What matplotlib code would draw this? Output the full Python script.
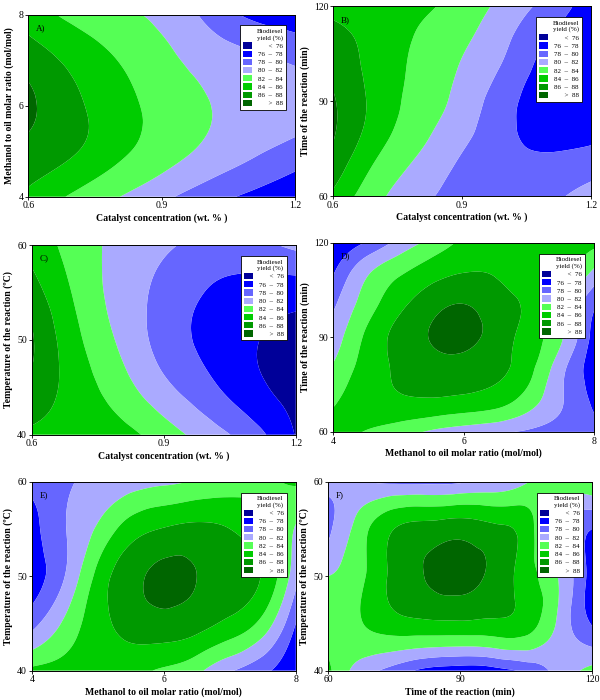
import numpy as np
import matplotlib
matplotlib.use('Agg')
import matplotlib.pyplot as plt
import matplotlib.tri as mtri
from matplotlib.patches import Patch

plt.rcParams['font.family'] = ['Liberation Serif', 'DejaVu Serif']

# contour bands (biodiesel yield, %)
levels = [70, 76, 78, 80, 82, 84, 86, 88, 95]
band_colors = ['#000099', '#0000ff', '#6666ff', '#aaaaff',
               '#55ff55', '#00cc00', '#009900', '#006600']
band_labels = ['      <  76', '76  \u2013  78', '78  \u2013  80', '80  \u2013  82',
               '82  \u2013  84', '84  \u2013  86', '86  \u2013  88', '      >  88']

# factor levels
catalyst = [0.6, 0.7, 0.8, 0.9, 1.0, 1.1, 1.2]
methanol_a = [4, 5, 6, 7, 8]
time_b = [60, 70, 80, 90, 100, 110, 120]
temp_c = [40, 45, 50, 55, 60]
methanol = [4, 4.5, 5, 5.5, 6, 6.5, 7, 7.5, 8]
time_f = [60, 67.5, 75, 82.5, 90, 97.5, 105, 112.5, 120]

# yield, rows = y values, cols = x values
yield_a = [[85.6, 83.7, 82.1, 80.5, 78.9, 77.6, 76.5],
           [87.4, 86.2, 84.5, 83.0, 81.6, 80.4, 79.2],
           [88.4, 86.5, 84.8, 83.3, 82.1, 81.4, 81.0],
           [87.2, 85.5, 84.0, 82.6, 81.3, 80.5, 79.7],
           [85.0, 83.5, 82.5, 81.5, 79.6, 77.6, 76.8]]

yield_b = [[85.6, 82.6, 80.5, 79.4, 79.0, 79.5, 80.9],
           [87.3, 83.8, 81.6, 79.7, 78.6, 78.5, 79.0],
           [88.2, 85.0, 82.6, 80.6, 78.5, 77.3, 77.4],
           [88.2, 85.4, 83.2, 81.3, 78.7, 77.0, 76.3],
           [87.5, 85.3, 83.5, 81.8, 79.6, 77.2, 76.3],
           [86.6, 85.3, 83.8, 82.4, 80.4, 78.0, 76.6],
           [85.5, 85.1, 84.4, 83.2, 81.3, 79.3, 77.0]]

yield_c = [[85.6, 85.3, 84.8, 83.0, 81.0, 78.9, 75.9],
           [87.5, 85.1, 82.9, 80.5, 78.5, 76.6, 75.2],
           [88.2, 84.5, 81.7, 79.2, 77.5, 76.2, 75.3],
           [86.9, 83.7, 81.2, 79.4, 77.9, 77.2, 76.9],
           [85.3, 83.1, 81.4, 80.3, 79.4, 79.4, 80.5]]

yield_d = [[84.8, 83.9, 82.9, 81.7, 80.9, 80.3, 79.7, 79.0, 78.6],
           [83.7, 85.1, 85.7, 85.8, 85.5, 84.9, 83.0, 80.2, 77.6],
           [82.3, 84.8, 86.3, 87.2, 87.3, 86.5, 84.6, 80.6, 77.0],
           [80.8, 84.3, 86.6, 88.1, 88.5, 87.2, 85.1, 82.2, 77.2],
           [79.7, 83.0, 85.5, 87.3, 88.1, 87.0, 85.5, 82.3, 78.3],
           [77.9, 81.7, 83.8, 85.3, 86.1, 85.9, 85.3, 84.4, 81.3],
           [76.4, 78.1, 80.6, 82.6, 84.4, 85.2, 85.4, 85.1, 84.6]]

yield_e = [[84.5, 84.8, 84.9, 84.6, 83.7, 82.5, 80.2, 78.5, 76.5],
           [79.3, 82.4, 85.2, 86.8, 87.3, 86.8, 85.5, 83.3, 78.0],
           [77.0, 80.0, 84.6, 87.3, 88.5, 88.0, 87.3, 85.8, 80.7],
           [77.2, 79.9, 82.3, 85.0, 86.1, 86.5, 86.0, 84.6, 81.8],
           [78.7, 79.7, 80.5, 81.0, 81.6, 82.2, 82.9, 83.6, 84.3]]

yield_f = [[84.4, 81.0, 79.2, 77.4, 76.9, 77.2, 78.4, 80.8, 82.6],
           [83.2, 83.9, 85.2, 85.6, 85.7, 85.6, 85.0, 81.5, 77.8],
           [82.0, 83.6, 86.6, 88.1, 88.6, 87.5, 85.0, 81.8, 77.0],
           [79.5, 83.1, 86.0, 86.8, 87.2, 86.5, 85.0, 80.5, 78.0],
           [80.8, 80.1, 79.6, 79.5, 79.7, 80.3, 81.8, 83.2, 84.1]]

xlab_cat = 'Catalyst concentration (wt. % )'
xlab_met = 'Methanol to oil molar ratio (mol/mol)'
xlab_time = 'Time of the reaction (min)'
ylab_met = 'Methanol to oil molar ratio (mol/mol)'
ylab_time = 'Time of the reaction (min)'
ylab_temp = 'Temperature of the reaction (\u00baC)'


def draw_panel(ax, xs, ys, z, xticks, yticks, xlabel, ylabel, tag):
    xs = np.asarray(xs, float)
    ys = np.asarray(ys, float)
    z = np.asarray(z, float)
    nx, ny = len(xs), len(ys)
    X, Y = np.meshgrid((xs - xs[0]) / (xs[-1] - xs[0]), (ys - ys[0]) / (ys[-1] - ys[0]))
    tris = []
    for j in range(ny - 1):
        for i in range(nx - 1):
            a = j * nx + i
            tris.append([a, a + 1, a + nx + 1])
            tris.append([a, a + nx + 1, a + nx])
    tri = mtri.Triangulation(X.ravel(), Y.ravel(), tris)
    interp = mtri.CubicTriInterpolator(tri, z.ravel(), kind='min_E')
    tri_r, z_r = mtri.UniformTriRefiner(tri).refine_field(z.ravel(), triinterpolator=interp, subdiv=4)
    tri_d = mtri.Triangulation(xs[0] + tri_r.x * (xs[-1] - xs[0]),
                               ys[0] + tri_r.y * (ys[-1] - ys[0]), tri_r.triangles)
    ax.tricontourf(tri_d, z_r, levels=levels, colors=band_colors, antialiased=True)
    ax.set_xlim(xs[0], xs[-1])
    ax.set_ylim(ys[0], ys[-1])
    ax.set_xticks(xticks)
    ax.set_yticks(yticks)
    ax.tick_params(labelsize=7, length=2.2, width=0.6, pad=1.2)
    ax.set_xlabel(xlabel, fontsize=7, fontweight='bold', labelpad=2)
    ax.set_ylabel(ylabel, fontsize=7, fontweight='bold', labelpad=3)
    for s in ax.spines.values():
        s.set_linewidth(0.7)
    ax.text(0.03, 0.95, tag, transform=ax.transAxes, fontsize=6.5, va='top', ha='left')
    handles = [Patch(facecolor=c, edgecolor='none') for c in band_colors]
    leg = ax.legend(handles, band_labels, title='Biodiesel\nyield (%)', loc='upper right',
                    bbox_to_anchor=(0.98, 0.96), fontsize=5, title_fontsize=5,
                    handlelength=1.3, handleheight=1.0, labelspacing=0.25,
                    handletextpad=0.8, borderpad=0.5, fancybox=False,
                    framealpha=1, edgecolor='black', alignment='right')
    leg.get_frame().set_linewidth(0.6)


fig = plt.figure(figsize=(6, 7), dpi=100)

ax_a = fig.add_axes([0.047, 0.719, 0.445, 0.26])
draw_panel(ax_a, catalyst, methanol_a, yield_a, [0.6, 0.9, 1.2], [4, 6, 8],
           xlab_cat, ylab_met, 'A)')

ax_b = fig.add_axes([0.555, 0.72, 0.43, 0.271])
draw_panel(ax_b, catalyst, time_b, yield_b, [0.6, 0.9, 1.2], [60, 90, 120],
           xlab_cat, ylab_time, 'B)')

ax_c = fig.add_axes([0.053, 0.379, 0.44, 0.271])
draw_panel(ax_c, catalyst, temp_c, yield_c, [0.6, 0.9, 1.2], [40, 50, 60],
           xlab_cat, ylab_temp, 'C)')

ax_d = fig.add_axes([0.555, 0.383, 0.435, 0.27])
draw_panel(ax_d, methanol, time_b, yield_d, [4, 6, 8], [60, 90, 120],
           xlab_met, ylab_time, 'D)')

ax_e = fig.add_axes([0.053, 0.042, 0.44, 0.27])
draw_panel(ax_e, methanol, temp_c, yield_e, [4, 6, 8], [40, 50, 60],
           xlab_met, ylab_temp, 'E)')

ax_f = fig.add_axes([0.547, 0.042, 0.44, 0.27])
draw_panel(ax_f, time_f, temp_c, yield_f, [60, 90, 120], [40, 50, 60],
           xlab_time, ylab_temp, 'F)')

fig.savefig('out.png', dpi=100)
